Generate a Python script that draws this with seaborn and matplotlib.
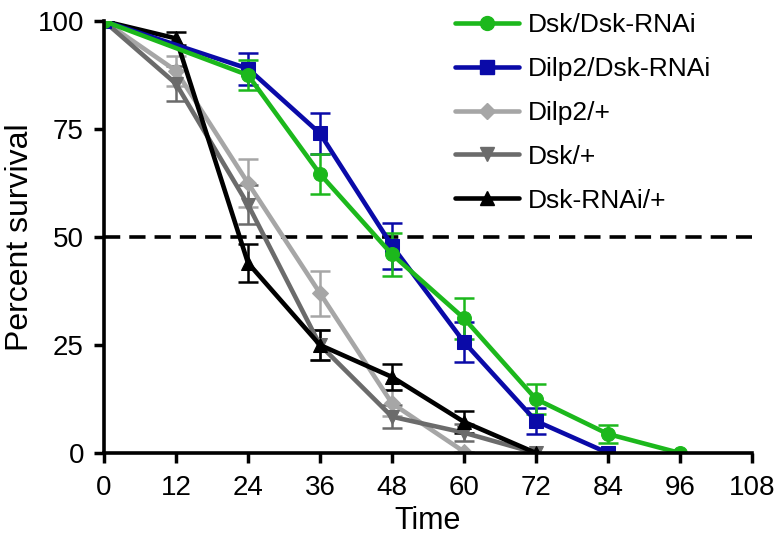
import numpy as np
import pandas as pd
import seaborn as sns
import matplotlib.pyplot as plt
from matplotlib.lines import Line2D

# survival data (percent)
names = ["Dsk/Dsk-RNAi", "Dilp2/Dsk-RNAi", "Dilp2/+", "Dsk/+", "Dsk-RNAi/+"]
colors = ["#1cb81c", "#0a0aa8", "#a6a6a6", "#6b6b6b", "#000000"]
markers = ["o", "s", "D", "v", "^"]

t_green = [0, 24, 36, 48, 60, 72, 84, 96]
y_green = [100, 87.5, 64.6, 46, 31.2, 12.5, 4.4, 0]
e_green = [0, 3.5, 4.6, 5, 4.7, 3.5, 2, 0]

t_blue = [0, 24, 36, 48, 60, 72, 84]
y_blue = [100, 89, 74, 48, 25.7, 7.4, 0]
e_blue = [0, 3.7, 4.8, 5.3, 4.7, 3, 0]

t_lgray = [0, 12, 24, 36, 48, 60]
y_lgray = [100, 88.5, 62.5, 37, 11.5, 0.3]
e_lgray = [0, 3.5, 5.5, 5.2, 3, 0]

t_dgray = [0, 12, 24, 36, 48, 60, 72]
y_dgray = [100, 85.5, 57.5, 25, 8.4, 4.7, 0]
e_dgray = [0, 4, 4.5, 3.5, 2.7, 2, 0]

t_black = [0, 12, 24, 36, 48, 60, 72]
y_black = [100, 96, 44, 25, 17.6, 7.2, 0]
e_black = [0, 1.5, 4.5, 3.5, 3, 2.5, 0]

series = {
    "Dsk/Dsk-RNAi": (t_green, y_green, e_green),
    "Dilp2/Dsk-RNAi": (t_blue, y_blue, e_blue),
    "Dilp2/+": (t_lgray, y_lgray, e_lgray),
    "Dsk/+": (t_dgray, y_dgray, e_dgray),
    "Dsk-RNAi/+": (t_black, y_black, e_black),
}

sns.set_style("ticks", {"text.color": "black", "axes.labelcolor": "black",
                        "xtick.color": "black", "ytick.color": "black",
                        "axes.edgecolor": "black"})
plt.rcParams['font.family'] = ['Liberation Sans', 'DejaVu Sans']

fig = plt.figure(figsize=(7.84, 5.56), dpi=100)
ax = fig.add_axes([0.1327, 0.1853, 0.959 - 0.1327, 0.962 - 0.1853])

ax.axhline(50, color="black", lw=2.6, ls=(0, (4.5, 2.5)), zorder=1)

draw_order = ["Dilp2/+", "Dsk/+", "Dsk-RNAi/+", "Dilp2/Dsk-RNAi", "Dsk/Dsk-RNAi"]
for name in draw_order:
    i = names.index(name)
    t, y, e = series[name]
    df = pd.DataFrame({"time": t, "surv": y, "err": e})
    ax.errorbar(df["time"], df["surv"], yerr=df["err"], fmt="none",
                ecolor=colors[i], elinewidth=1.8, capsize=7, capthick=1.8, zorder=2)
    sns.lineplot(data=df, x="time", y="surv", ax=ax, color=colors[i],
                 marker=markers[i], markersize=10 if markers[i] != "D" else 8,
                 markeredgecolor=colors[i], lw=3.3, zorder=3)

ax.set_xlim(0, 108)
ax.set_ylim(0, 100)
ax.set_xticks(np.arange(0, 109, 12))
ax.set_yticks([0, 25, 50, 75, 100])
ax.set_xlabel("Time", fontsize=22, labelpad=4)
ax.set_ylabel("Percent survival", fontsize=23, labelpad=2)
ax.tick_params(labelsize=20, width=2.5, length=7.5, direction="out")
ax.tick_params(axis="x", pad=8)
ax.tick_params(axis="y", pad=7)
for s in ["top", "right"]:
    ax.spines[s].set_visible(False)
for s in ["left", "bottom"]:
    ax.spines[s].set_linewidth(2.6)
    ax.spines[s].set_zorder(5)

handles = [Line2D([], [], color=colors[i], marker=markers[i], lw=3.3,
                  markersize=10 if markers[i] != "D" else 8) for i in range(5)]
fig.legend(handles, names, loc="upper left", bbox_to_anchor=(455 / 784, 0.976),
           frameon=False, fontsize=19, handlelength=2.42, labelspacing=0.75,
           handletextpad=0.35, borderpad=0, borderaxespad=0)

fig.savefig("out.png", dpi=100)
